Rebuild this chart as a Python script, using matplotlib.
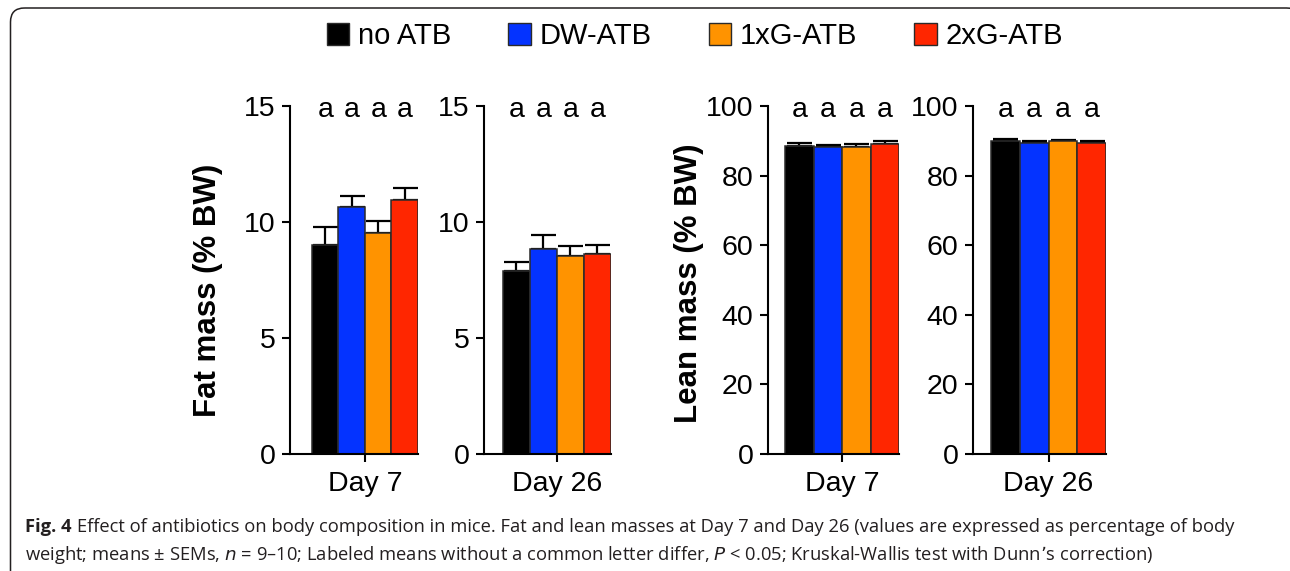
import numpy as np
import matplotlib.pyplot as plt
from matplotlib.patches import Patch, FancyBboxPatch

plt.rcParams['font.family'] = ['Liberation Sans', 'DejaVu Sans']

# groups and colours
groups = ["no ATB", "DW-ATB", "1xG-ATB", "2xG-ATB"]
colors = ["#000000", "#0433FF", "#FF9300", "#FF2600"]

# fat mass (% BW), means and SEMs
fat_day7 = [9.0, 10.66, 9.52, 10.95]
fat_day7_sem = [0.78, 0.46, 0.54, 0.53]
fat_day26 = [7.9, 8.82, 8.53, 8.62]
fat_day26_sem = [0.39, 0.62, 0.45, 0.39]

# lean mass (% BW)
lean_day7 = [88.5, 88.1, 88.3, 89.0]
lean_day7_sem = [1.0, 0.7, 0.8, 0.8]
lean_day26 = [90.0, 89.5, 89.8, 89.5]
lean_day26_sem = [0.6, 0.5, 0.4, 0.5]

letters = ["a", "a", "a", "a"]
days = ["Day 7", "Day 26"]

fat_ticks = [0, 5, 10, 15]
lean_ticks = [0, 20, 40, 60, 80, 100]

W, H = 1290, 571
fig = plt.figure(figsize=(W / 100, H / 100), dpi=100)

# background axes in pixel coords for the frame and caption
bg = fig.add_axes([0, 0, 1, 1])
bg.set_xlim(0, W)
bg.set_ylim(H, 0)
bg.axis('off')
frame = FancyBboxPatch((10.5, 8), 1290, 580, boxstyle="round,pad=0,rounding_size=14",
                       fc='none', ec='#231f20', lw=1.1)
bg.add_patch(frame)

# panel layout in pixels: y-axis x position, right end, left xlim
panels = [
    (290, 418, -1.33, fat_day7, fat_day7_sem, 15, fat_ticks, days[0]),
    (484, 611, -1.20, fat_day26, fat_day26_sem, 15, fat_ticks, days[1]),
    (768, 899, -1.10, lean_day7, lean_day7_sem, 100, lean_ticks, days[0]),
    (973, 1106, -1.13, lean_day26, lean_day26_sem, 100, lean_ticks, days[1]),
]
top_px, bot_px = 106, 454

axes = []
for x0, x1, xl, vals, sems, ymax, ticks, day in panels:
    ax = fig.add_axes([x0 / W, 1 - bot_px / H, (x1 - x0) / W, (bot_px - top_px) / H])
    xs = np.arange(len(vals))
    ax.bar(xs, vals, width=1.0, color=colors, edgecolor='#2a2a2a', linewidth=1.1, zorder=2)
    ax.errorbar(xs, vals, yerr=[np.zeros(len(sems)), sems], fmt='none', ecolor='black',
                elinewidth=1.6, capsize=9, capthick=1.6, zorder=1)
    ax.set_xlim(xl, 3.5)
    ax.set_ylim(0, ymax)
    ax.set_yticks(ticks)
    ax.set_xticks([1.5])
    ax.set_xticklabels([day])
    for s in ['top', 'right']:
        ax.spines[s].set_visible(False)
    for s in ['left', 'bottom']:
        ax.spines[s].set_linewidth(1.5)
    ax.tick_params(axis='both', width=1.5, length=5.5, labelsize=20.5, colors='black')
    ax.tick_params(axis='y', pad=5)
    ax.tick_params(axis='x', pad=7)
    for x, l in zip(xs, letters):
        ax.text(x, 0.968, l, transform=ax.get_xaxis_transform(), ha='center',
                va='baseline', fontsize=20.5)
    axes.append(ax)

axes[0].set_ylabel("Fat mass (% BW)", fontsize=22.5, fontweight='bold')
axes[0].yaxis.set_label_coords(-0.52, 0.47)
axes[2].set_ylabel("Lean mass (% BW)", fontsize=22.5, fontweight='bold')
axes[2].yaxis.set_label_coords(-0.49, 0.49)

handles = [Patch(facecolor=c, edgecolor='#2a2a2a', linewidth=1.0) for c in colors]
fig.legend(handles, groups, loc='center', bbox_to_anchor=(695 / W, 1 - 36 / H), ncol=4,
           frameon=False, fontsize=21, handlelength=0.78, handleheight=0.78,
           handletextpad=0.3, columnspacing=1.95, borderpad=0)

# caption
cap_font = ['Open Sans', 'DejaVu Sans']
cap_size = 13.25
t1 = bg.text(25, 532, "Fig. 4", fontsize=cap_size, fontweight='bold', family=cap_font,
             color='#231f20', va='baseline')
bg.annotate("Effect of antibiotics on body composition in mice. Fat and lean masses at Day 7 and Day 26 "
            "(values are expressed as percentage of body",
            xy=(1, 0), xycoords=t1, xytext=(4, 0), textcoords='offset points',
            fontsize=cap_size, family=cap_font, color='#231f20', va='bottom')
bg.text(25, 560, "weight; means \u00b1 SEMs, $n$ = 9\u201310; Labeled means without a common letter differ, "
        "$P$ < 0.05; Kruskal-Wallis test with Dunn\u2019s correction)",
        fontsize=cap_size, family=cap_font, color='#231f20', va='baseline')

fig.savefig("out.png", dpi=100)
